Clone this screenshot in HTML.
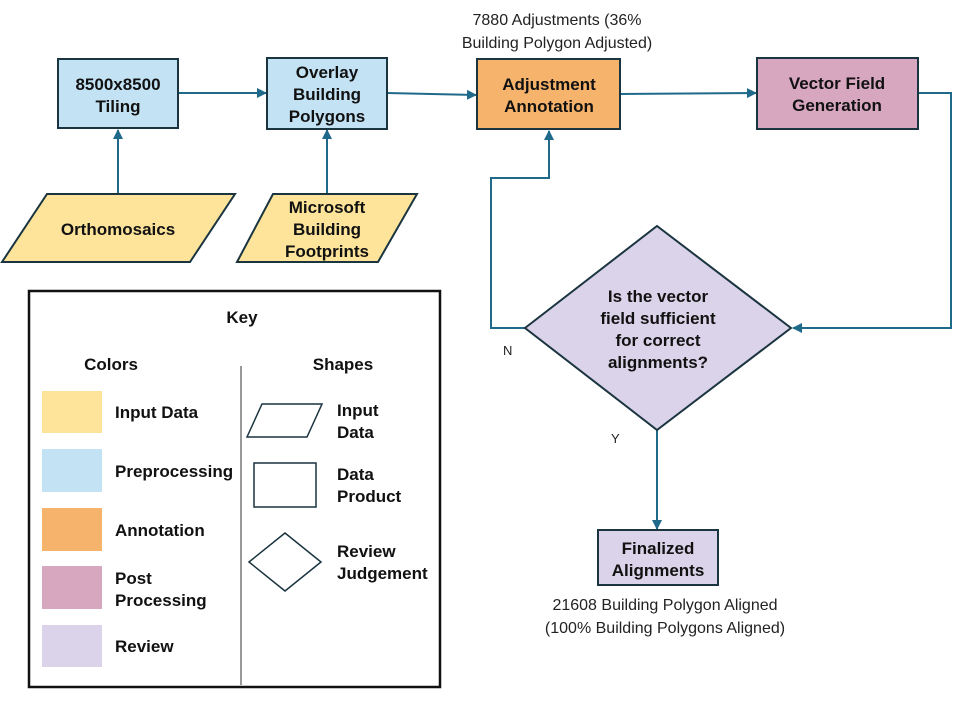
<!DOCTYPE html>
<html><head><style>
body{margin:0;background:#fff;}
svg text{font-family:"Liberation Sans",sans-serif;}
.b{font-weight:bold;font-size:17px;fill:#111;}
.n{font-size:16px;fill:#222;}
</style></head><body>
<svg width="960" height="720" viewBox="0 0 960 720" xmlns="http://www.w3.org/2000/svg">
<defs><marker id="a" markerWidth="10" markerHeight="10" refX="9" refY="5" orient="auto" markerUnits="userSpaceOnUse"><path d="M0,0 L10,5 L0,10 z" fill="#1f6a8a"/></marker></defs>
<g stroke="#1f6a8a" stroke-width="2" fill="none" marker-end="url(#a)">
<line x1="178" y1="93" x2="266" y2="93"/>
<line x1="387" y1="93" x2="476" y2="95"/>
<line x1="620" y1="94" x2="756" y2="93"/>
<line x1="118" y1="194" x2="118" y2="130"/>
<line x1="327" y1="194" x2="327" y2="130"/>
<polyline points="918,93 951,93 951,328 793,328"/>
<polyline points="525,328 491,328 491,178 549,178 549,131"/>
<line x1="657" y1="430" x2="657" y2="529"/>
</g>
<g stroke="#1a3440" stroke-width="2">
<rect x="58" y="59" width="120" height="69" fill="#c3e3f5"/>
<rect x="267" y="58" width="120" height="71" fill="#c3e3f5"/>
<rect x="477" y="59" width="143" height="70" fill="#f6b36b"/>
<rect x="757" y="58" width="161" height="71" fill="#d7a6bf"/>
<polygon points="2,262 47,194 235,194 190,262" fill="#fde49a"/>
<polygon points="237,262 273,194 417,194 378,262" fill="#fde49a"/>
<polygon points="525,328 657,226 791,328 657,430" fill="#dbd3e9"/>
<rect x="598" y="530" width="120" height="55" fill="#dbd3e9"/>
</g>
<g class="b" text-anchor="middle">
<text x="118" y="90">8500x8500</text><text x="118" y="112">Tiling</text>
<text x="327" y="78">Overlay</text><text x="327" y="100">Building</text><text x="327" y="122">Polygons</text>
<text x="549" y="90">Adjustment</text><text x="549" y="112">Annotation</text>
<text x="837" y="89">Vector Field</text><text x="837" y="111">Generation</text>
<text x="118" y="235">Orthomosaics</text>
<text x="327" y="213">Microsoft</text><text x="327" y="235">Building</text><text x="327" y="257">Footprints</text>
<text x="658" y="302">Is the vector</text><text x="658" y="324">field sufficient</text><text x="658" y="346">for correct</text><text x="658" y="368">alignments?</text>
<text x="658" y="554">Finalized</text><text x="658" y="576">Alignments</text>
</g>
<g class="n" text-anchor="middle">
<text x="557" y="25">7880 Adjustments (36%</text><text x="557" y="48">Building Polygon Adjusted)</text>
<text x="665" y="610">21608 Building Polygon Aligned</text><text x="665" y="633">(100% Building Polygons Aligned)</text>
</g>
<text x="503" y="355" font-size="13" fill="#222" style="font-family:'Liberation Sans'">N</text>
<text x="611" y="443" font-size="13" fill="#222" style="font-family:'Liberation Sans'">Y</text>
<rect x="29" y="291" width="411" height="396" fill="none" stroke="#111" stroke-width="2.5"/>
<line x1="241" y1="366" x2="241" y2="685" stroke="#333" stroke-width="1"/>
<g class="b">
<text x="242" y="323" text-anchor="middle">Key</text>
<text x="111" y="370" text-anchor="middle">Colors</text>
<text x="343" y="370" text-anchor="middle">Shapes</text>
<text x="115" y="418">Input Data</text>
<text x="115" y="477">Preprocessing</text>
<text x="115" y="536">Annotation</text>
<text x="115" y="584">Post</text><text x="115" y="606">Processing</text>
<text x="115" y="652">Review</text>
<text x="337" y="416">Input</text><text x="337" y="438">Data</text>
<text x="337" y="480">Data</text><text x="337" y="502">Product</text>
<text x="337" y="557">Review</text><text x="337" y="579">Judgement</text>
</g>
<rect x="42" y="391" width="60" height="42" fill="#fde49a"/>
<rect x="42" y="449" width="60" height="43" fill="#c3e3f5"/>
<rect x="42" y="508" width="60" height="43" fill="#f6b36b"/>
<rect x="42" y="566" width="60" height="43" fill="#d7a6bf"/>
<rect x="42" y="625" width="60" height="42" fill="#dbd3e9"/>
<g stroke="#1a3440" stroke-width="1.5" fill="none">
<polygon points="247,437 262,404 322,404 307,437"/>
<rect x="254" y="463" width="62" height="44"/>
<polygon points="249,562 285,533 321,562 285,591"/>
</g>
</svg>
</body></html>
